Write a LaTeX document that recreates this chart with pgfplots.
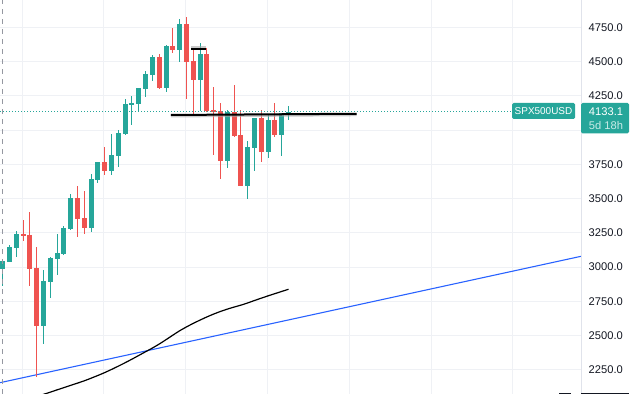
\documentclass[border=0pt]{standalone}
\usepackage{pgfplots}
\pgfplotsset{compat=1.18}
\usepackage{pgfplotstable}
\usepackage{fontspec}
\setmainfont{Liberation Sans}
\definecolor{tvgreen}{HTML}{26A69A}
\definecolor{tvred}{HTML}{EF5350}
\definecolor{tvblue}{HTML}{2962FF}
\definecolor{tvtext}{HTML}{131722}
\definecolor{tvgrid}{HTML}{EFF1F5}
\definecolor{tvaxis}{HTML}{E0E3EB}
\definecolor{tvdash}{HTML}{9598A1}
\definecolor{tvsub}{HTML}{C9EBE7}

\pgfplotstableread{
i o h l c
0 2988 3050 2864 3046
1 3037 3161 3037 3146
2 3141 3263 3073 3241
6 2570 2978 2438 2900
7 2891 3076 2774 3066
8 3059 3241 2942 3103
9 3095 3302 3088 3285
10 3278 3533 3270 3504
13 3285 3679 3256 3643
14 3635 3770 3614 3767
16 3703 3971 3672 3820
17 3811 4000 3733 3979
18 3971 4227 3965 4190
19 4183 4249 4037 4198
20 4190 4310 4139 4307
21 4300 4431 4241 4409
22 4402 4548 4358 4533
24 4307 4618 4278 4613
26 4584 4811 4497 4774
29 4365 4635 4139 4555
33 3774 4146 3723 4132
36 3592 3920 3497 3876
37 3869 4090 3701 4088
39 3840 4110 3796 4073
41 3964 4125 3811 4121
42 4110 4176 4073 4133
}\greencandles

\pgfplotstableread{
i o h l c
3 3241 3343 3192 3229
4 3236 3402 2864 2988
5 2993 3146 2195 2570
11 3504 3592 3222 3353
12 3358 3555 3241 3285
15 3767 3876 3672 3701
23 4533 4555 4300 4307
25 4613 4745 4562 4584
27 4774 4825 4227 4497
28 4504 4592 4110 4365
30 4555 4599 4135 4139
31 4146 4314 3818 4132
32 4139 4197 3643 3774
34 4132 4329 3950 3957
35 3964 4146 3592 3592
38 4088 4146 3767 3840
40 4073 4197 3949 3964
}\redcandles

\pgfplotstableread{
i ma
5 2056
6 2071
7 2087
8 2104
9 2120
10 2137
11 2153
12 2170
13 2189
14 2209
15 2230
16 2253
17 2277
18 2302
19 2328
20 2355
21 2382
22 2409
23 2438
24 2470
25 2503
26 2535
27 2563
28 2589
29 2613
30 2636
31 2657
32 2676
33 2693
34 2708
35 2722
36 2738
37 2756
38 2773
39 2790
40 2806
41 2822
42 2838
}\matable

\begin{document}
\begin{tikzpicture}
\useasboundingbox (0,0) rectangle (634bp,394bp);
\begin{axis}[
  at={(0,0)}, anchor=south west,
  scale only axis, width=581bp, height=394bp,
  xmin=-0.397, xmax=84.98, ymin=2073.5, ymax=4949.3,
  axis line style={draw=none},
  major tick length=0pt,
  xtick={2.85,14.87,26.89,38.91,50.93,62.95,74.97},
  xticklabels={},
  ytick={2250,2500,2750,3000,3250,3500,3750,4250,4500,4750},
  extra y ticks={4000}, extra y tick labels={},
  extra y tick style={grid=major},
  xmajorgrids, ymajorgrids,
  grid style={draw=tvgrid, line width=1bp},
  yticklabel pos=right,
  yticklabel style={anchor=west, inner sep=0pt, xshift=7.5bp,
    font=\fontsize{11.2}{13}\selectfont, text=tvtext,
    /pgf/number format/fixed, /pgf/number format/fixed zerofill,
    /pgf/number format/precision=1, /pgf/number format/1000 sep={},
    /pgf/number format/assume math mode=true},
  clip mode=individual,
  candle/.style={draw=none, mark=none, mark options={draw=none, fill=none}, forget plot},
]
% trend line
\addplot[tvblue, line width=1.1bp] coordinates {(-0.397,2156) (84.98,3078.5)};
% moving average
\addplot[black, line width=1.2bp, smooth, tension=0.3] table[x=i, y=ma] {\matable};
% wicks
\addplot[candle, error bars/.cd, y dir=both, y explicit, error mark=none,
  error bar style={draw=tvgreen, line width=1bp}]
  table[x=i, y expr={(\thisrow{h}+\thisrow{l})/2}, y error expr={(\thisrow{h}-\thisrow{l})/2}] {\greencandles};
\addplot[candle, error bars/.cd, y dir=both, y explicit, error mark=none,
  error bar style={draw=tvred, line width=1bp}]
  table[x=i, y expr={(\thisrow{h}+\thisrow{l})/2}, y error expr={(\thisrow{h}-\thisrow{l})/2}] {\redcandles};
% bodies
\addplot[candle, error bars/.cd, y dir=both, y explicit, error mark=none,
  error bar style={draw=tvgreen, line width=5bp}]
  table[x=i, y expr={(\thisrow{o}+\thisrow{c})/2}, y error expr={max(abs(\thisrow{c}-\thisrow{o})/2,3.6)}] {\greencandles};
\addplot[candle, error bars/.cd, y dir=both, y explicit, error mark=none,
  error bar style={draw=tvred, line width=5bp}]
  table[x=i, y expr={(\thisrow{o}+\thisrow{c})/2}, y error expr={max(abs(\thisrow{c}-\thisrow{o})/2,3.6)}] {\redcandles};
% session dashed line
\addplot[tvdash, line width=1bp, dash pattern=on 5bp off 5bp] coordinates {(-0.03,2073.5) (-0.03,4949.3)};
% current price dotted line
\addplot[tvgreen, line width=1bp, dash pattern=on 1bp off 2bp] coordinates {(-0.397,4133.1) (74.84,4133.1)};
% drawn horizontal lines
\addplot[black!35, line width=3bp, opacity=0.6] coordinates {(24.73,4103) (52.0,4112)};
\addplot[black, line width=2bp] coordinates {(24.73,4110) (52.0,4119)};
\addplot[black!35, line width=3bp, opacity=0.6] coordinates {(27.7,4599) (29.9,4599)};
\addplot[black, line width=2bp] coordinates {(27.7,4592) (29.9,4592)};
\end{axis}
% right scale border
\draw[tvaxis, line width=1bp] (581.3bp,0) -- (581.3bp,394bp);
\draw[tvtext, line width=1bp] (559bp,0.5bp) -- (571bp,0.5bp);
\draw[tvtext, line width=1bp] (581bp,0.5bp) -- (629bp,0.5bp);
% symbol label
\fill[tvgreen, rounded corners=1.5bp] (512bp,275bp) rectangle (575bp,291bp);
\node[text=white, inner sep=0pt, font=\fontsize{10}{12}\selectfont] at (543.5bp,283bp) {SPX500USD};
% price label
\fill[tvgreen, rounded corners=1.5bp] (581bp,260.7bp) rectangle (629bp,291bp);
\node[text=white, inner sep=0pt, font=\fontsize{11.2}{13}\selectfont] at (606bp,282bp) {4133.1};
\node[text=tvsub, inner sep=0pt, font=\fontsize{11.2}{13}\selectfont] at (606bp,268.3bp) {5d 18h};
\end{tikzpicture}
\end{document}
